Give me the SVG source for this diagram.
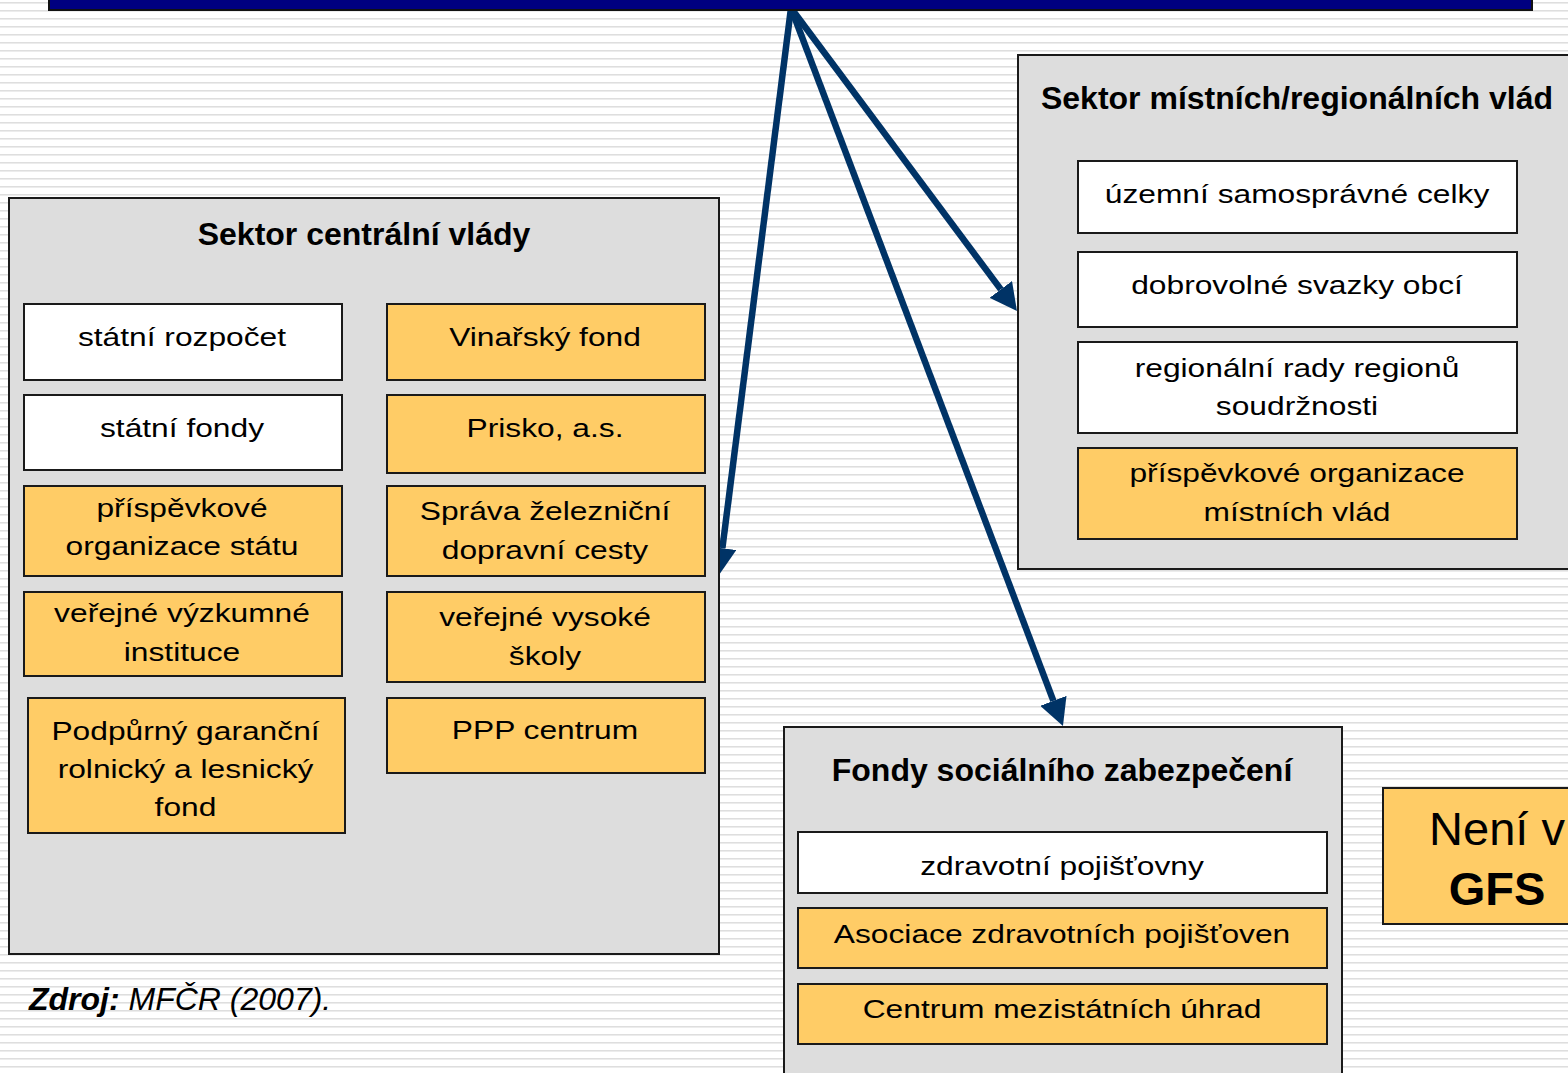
<svg xmlns="http://www.w3.org/2000/svg" width="1568" height="1073" viewBox="0 0 1568 1073">
<defs>
<pattern id="stripes" patternUnits="userSpaceOnUse" x="0" y="0" width="8" height="8">
<rect x="0" y="0" width="8" height="8" fill="#ffffff"/>
<rect x="0" y="2" width="8" height="1" fill="#dedede"/>
<rect x="0" y="3" width="8" height="1" fill="#ececec"/>
</pattern>
<marker id="ah" markerUnits="userSpaceOnUse" markerWidth="28" markerHeight="28" refX="0" refY="14" orient="auto" viewBox="0 0 28 28">
<path d="M0,0 L27,14 L0,28 Z" fill="#003366"/>
</marker>
<style>
.sector{fill:#dddddd;stroke:#1a1a1a;stroke-width:2}
.w{fill:#ffffff;stroke:#1a1a1a;stroke-width:2}
.o{fill:#ffcc66;stroke:#1a1a1a;stroke-width:2}
.title{font-family:"Liberation Sans",Arial,sans-serif;font-weight:bold;font-size:32px;fill:#000;text-anchor:middle}
.t{font-family:"Liberation Sans",Arial,sans-serif;font-size:25px;fill:#000;text-anchor:middle}
.conn{fill:none;stroke:#003366;stroke-width:6.5;marker-end:url(#ah)}
</style>
</defs>
<rect x="0" y="0" width="1568" height="1073" fill="url(#stripes)"/>

<g id="connectors">
<line class="conn" x1="791" y1="8" x2="722.4" y2="548.2"/>
<line class="conn" x1="791" y1="8" x2="1000.8" y2="289.4"/>
<line class="conn" x1="791" y1="8" x2="1053.4" y2="700.8"/>
</g>

<g id="topbar">
<rect x="49" y="-4" width="1483" height="14" fill="#000080" stroke="#111111" stroke-width="2"/>
</g>

<g id="central-sector">
<rect class="sector" x="9" y="198" width="710" height="756"/>
<text class="title" x="364" y="245">Sektor centrální vlády</text>
<g id="statni-rozpocet"><rect class="w" x="24" y="304" width="318" height="76"/>
<text class="t" transform="translate(182,346) scale(1.27,1)">státní rozpočet</text></g>
<g id="statni-fondy"><rect class="w" x="24" y="395" width="318" height="75"/>
<text class="t" transform="translate(182,437) scale(1.27,1)">státní fondy</text></g>
<g id="po-statu"><rect class="o" x="24" y="486" width="318" height="90"/>
<text class="t" transform="translate(182,517) scale(1.27,1)">příspěvkové</text>
<text class="t" transform="translate(182,555) scale(1.27,1)">organizace státu</text></g>
<g id="vvi"><rect class="o" x="24" y="592" width="318" height="84"/>
<text class="t" transform="translate(182,622) scale(1.27,1)">veřejné výzkumné</text>
<text class="t" transform="translate(182,661) scale(1.27,1)">instituce</text></g>
<g id="pgrlf"><rect class="o" x="28" y="698" width="317" height="135"/>
<text class="t" transform="translate(185.5,740) scale(1.27,1)">Podpůrný garanční</text>
<text class="t" transform="translate(185.5,778) scale(1.27,1)">rolnický a lesnický</text>
<text class="t" transform="translate(185.5,816) scale(1.27,1)">fond</text></g>
<g id="vinarsky-fond"><rect class="o" x="387" y="304" width="318" height="76"/>
<text class="t" transform="translate(545,346) scale(1.27,1)">Vinařský fond</text></g>
<g id="prisko"><rect class="o" x="387" y="395" width="318" height="78"/>
<text class="t" transform="translate(545,437) scale(1.27,1)">Prisko, a.s.</text></g>
<g id="szdc"><rect class="o" x="387" y="486" width="318" height="90"/>
<text class="t" transform="translate(545,520) scale(1.27,1)">Správa železniční</text>
<text class="t" transform="translate(545,559) scale(1.27,1)">dopravní cesty</text></g>
<g id="vvs"><rect class="o" x="387" y="592" width="318" height="90"/>
<text class="t" transform="translate(545,626) scale(1.27,1)">veřejné vysoké</text>
<text class="t" transform="translate(545,665) scale(1.27,1)">školy</text></g>
<g id="ppp"><rect class="o" x="387" y="698" width="318" height="75"/>
<text class="t" transform="translate(545,739) scale(1.27,1)">PPP centrum</text></g>
</g>

<g id="local-sector">
<rect class="sector" x="1018" y="55" width="600" height="514"/>
<text class="title" x="1297" y="109">Sektor místních/regionálních vlád</text>
<g id="usc"><rect class="w" x="1078" y="161" width="439" height="72"/>
<text class="t" transform="translate(1297,203) scale(1.27,1)">územní samosprávné celky</text></g>
<g id="dso"><rect class="w" x="1078" y="252" width="439" height="75"/>
<text class="t" transform="translate(1297,294) scale(1.27,1)">dobrovolné svazky obcí</text></g>
<g id="rrrs"><rect class="w" x="1078" y="342" width="439" height="91"/>
<text class="t" transform="translate(1297,377) scale(1.27,1)">regionální rady regionů</text>
<text class="t" transform="translate(1297,415) scale(1.27,1)">soudržnosti</text></g>
<g id="po-mistnich"><rect class="o" x="1078" y="448" width="439" height="91"/>
<text class="t" transform="translate(1297,482) scale(1.27,1)">příspěvkové organizace</text>
<text class="t" transform="translate(1297,521) scale(1.27,1)">místních vlád</text></g>
</g>

<g id="social-funds">
<rect class="sector" x="784" y="727" width="558" height="400"/>
<text class="title" x="1062" y="781">Fondy sociálního zabezpečení</text>
<g id="zp"><rect class="w" x="798" y="832" width="529" height="61"/>
<text class="t" transform="translate(1062,875) scale(1.27,1)">zdravotní pojišťovny</text></g>
<g id="azp"><rect class="o" x="798" y="908" width="529" height="60"/>
<text class="t" transform="translate(1062,943) scale(1.27,1)">Asociace zdravotních pojišťoven</text></g>
<g id="cmu"><rect class="o" x="798" y="984" width="529" height="60"/>
<text class="t" transform="translate(1062,1018) scale(1.27,1)">Centrum mezistátních úhrad</text></g>
</g>

<g id="neni-v-gfs">
<rect class="o" x="1383" y="788" width="260" height="136"/>
<text x="1497" y="845" font-family="'Liberation Sans',Arial,sans-serif" font-size="47" text-anchor="middle">Není v</text>
<text x="1497" y="905" font-family="'Liberation Sans',Arial,sans-serif" font-size="47" font-weight="bold" text-anchor="middle">GFS</text>
</g>

<g id="source">
<text x="29" y="1010" font-family="'Liberation Sans',Arial,sans-serif" font-size="32" font-style="italic"><tspan font-weight="bold">Zdroj:</tspan> MFČR (2007).</text>
</g>
</svg>
